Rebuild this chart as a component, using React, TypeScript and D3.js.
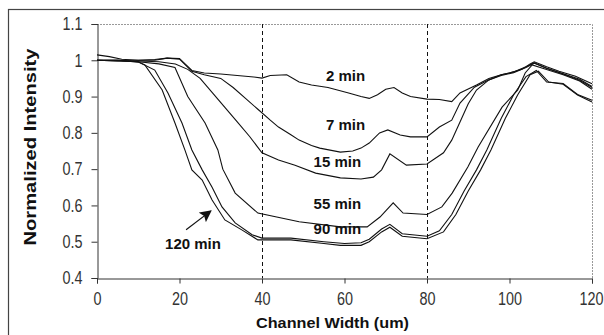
import React, { useRef, useEffect } from "react";
import * as d3 from "d3";

// values, [channel width (um), normalized intensity]
const min2: [number, number][] = [
  [0, 1.015], [3, 1.01], [6, 1.003], [10, 1.0], [14, 1.0], [17, 1.006], [20, 1.005], [23, 0.972],
  [26, 0.965], [30, 0.962], [34, 0.958], [38, 0.954], [40, 0.951], [42, 0.958], [46, 0.96],
  [49, 0.94], [52, 0.932], [56, 0.925], [61, 0.91], [64, 0.9], [66, 0.895], [68, 0.905],
  [70, 0.92], [72, 0.925], [74, 0.91], [76, 0.9], [80, 0.893], [83, 0.892], [86, 0.886],
  [88, 0.91], [92, 0.932], [95, 0.95], [98, 0.96], [100, 0.965], [103, 0.975], [105, 0.99],
  [106, 0.996], [109, 0.982], [112, 0.97], [116, 0.956], [120, 0.935],
];
const min7: [number, number][] = [
  [0, 1.0], [5, 1.0], [10, 1.0], [14, 1.002], [17, 1.006], [20, 1.003], [23, 0.97], [26, 0.96],
  [30, 0.95], [33, 0.925], [36, 0.895], [39, 0.865], [42, 0.835], [44, 0.816], [47, 0.795],
  [49, 0.78], [52, 0.765], [54, 0.758], [59, 0.747], [62, 0.75], [64, 0.758], [66, 0.772],
  [68.5, 0.8], [70.5, 0.808], [73.5, 0.794], [76, 0.789], [80, 0.789], [83, 0.816], [86, 0.835],
  [88, 0.882], [91.5, 0.926], [95, 0.946], [98, 0.958], [101, 0.966], [104, 0.98], [106, 0.992],
  [109, 0.978], [113, 0.963], [117, 0.948], [120, 0.928],
];
const min15: [number, number][] = [
  [0, 1.0], [5, 0.998], [10, 0.998], [15, 0.996], [19, 0.99], [22, 0.975], [25, 0.95], [28, 0.91],
  [31, 0.87], [34, 0.83], [37, 0.79], [40, 0.745], [44, 0.725], [48, 0.711], [53, 0.689],
  [59, 0.676], [64, 0.673], [67, 0.678], [69, 0.698], [71, 0.742], [75, 0.711], [80, 0.714],
  [84, 0.745], [86, 0.78], [88, 0.83], [90, 0.88], [92, 0.918], [95, 0.946], [98, 0.96],
  [101, 0.968], [104, 0.982], [106, 0.993], [109, 0.978], [113, 0.962], [117, 0.945], [120, 0.925],
];
const min55: [number, number][] = [
  [0, 1.0], [5, 0.998], [10, 0.996], [15, 0.99], [18.9, 0.98], [22, 0.9], [26.2, 0.827],
  [29.3, 0.753], [30.5, 0.7], [33.5, 0.634], [39, 0.579], [49, 0.555], [59, 0.541], [65.5, 0.541],
  [68.6, 0.568], [71.8, 0.607], [74.2, 0.579], [80, 0.575], [83.6, 0.596], [86.1, 0.634],
  [89.9, 0.706], [92.4, 0.761], [98.2, 0.871], [102, 0.918], [103.8, 0.965], [105.5, 0.987],
  [108.6, 0.976], [113, 0.96], [117, 0.943], [120, 0.92],
];
const min90: [number, number][] = [
  [0, 1.0], [5, 1.0], [10, 0.996], [14, 0.973], [17.2, 0.91], [20.6, 0.827], [23, 0.753],
  [25.5, 0.698], [27.9, 0.65], [30.3, 0.596], [33.5, 0.552], [37.6, 0.519], [40, 0.51],
  [47, 0.51], [55, 0.5], [60, 0.495], [64, 0.497], [66, 0.507], [69, 0.535], [71, 0.548],
  [74, 0.522], [80, 0.515], [83, 0.53], [86, 0.575], [89, 0.64], [92, 0.698], [94.5, 0.753],
  [98, 0.84], [101, 0.905], [104, 0.955], [106.5, 0.972], [109, 0.94], [113, 0.936],
  [116.5, 0.906], [120, 0.89],
];
const min120: [number, number][] = [
  [0, 1.0], [5, 1.0], [10, 0.995], [11.6, 0.987], [15.8, 0.918], [18.9, 0.827], [21.3, 0.753],
  [23, 0.698], [25.5, 0.67], [27.9, 0.615], [31, 0.56], [35.2, 0.532], [39, 0.505], [47, 0.505],
  [55, 0.495], [59, 0.49], [64, 0.49], [66, 0.5], [69, 0.527], [71, 0.54], [74, 0.515],
  [80, 0.508], [84, 0.527], [87, 0.575], [90, 0.64], [93, 0.698], [95.5, 0.753], [99, 0.84],
  [102, 0.905], [105, 0.96], [107, 0.97], [109.5, 0.94], [113, 0.934], [116.5, 0.904], [120, 0.885],
];
const seriesList = [min2, min7, min15, min55, min90, min120];

// curve labels: text, x (um), y (intensity) of the text's left/baseline
const labelNames = ["2 min", "7 min", "15 min", "55 min", "90 min", "120 min"];
const labelX = [55.5, 55.5, 52.5, 52.5, 52.5, 16.5];
const labelY = [0.942, 0.807, 0.705, 0.59, 0.521, 0.48];

const xTicks = [0, 20, 40, 60, 80, 100, 120];
const yTicks = [0.4, 0.5, 0.6, 0.7, 0.8, 0.9, 1, 1.1];
const guideLines = [40, 80];

const W = 604;
const H = 335;
const m = { left: 97, right: 592, top: 24, bottom: 278 };

const App = () => {
  const svgRef = useRef<SVGSVGElement>(null);

  useEffect(() => {
    const svg = d3.select(svgRef.current);
    svg.selectAll("*").remove();

    const x = d3.scaleLinear().domain([0, 120]).range([m.left, m.right]);
    const y = d3.scaleLinear().domain([0.4, 1.1]).range([m.bottom, m.top]);
    const font = "'Liberation Sans', Arial, sans-serif";

    // outer frame (runs past the picture on the right and bottom)
    svg.append("rect")
      .attr("x", 8.5).attr("y", 9.5)
      .attr("width", 640).attr("height", 360)
      .attr("fill", "none").attr("stroke", "#444").attr("stroke-width", 1.2);

    // plot area top/right border, dotted grey
    svg.append("path")
      .attr("d", `M${m.left},${m.top + 0.5}H${m.right + 0.5}V${m.bottom}`)
      .attr("fill", "none").attr("stroke", "#999").attr("stroke-dasharray", "2,1");

    // dashed guides at 40 and 80 um
    svg.selectAll(".guide")
      .data(guideLines)
      .enter()
      .append("line")
      .attr("class", "guide")
      .attr("x1", (d) => Math.round(x(d)) + 0.5).attr("x2", (d) => Math.round(x(d)) + 0.5)
      .attr("y1", m.top).attr("y2", m.bottom)
      .attr("stroke", "#111").attr("stroke-dasharray", "4,3");

    // axes
    const yAxis = svg.append("g")
      .attr("transform", `translate(${m.left + 0.5},0)`)
      .call(d3.axisLeft(y).tickValues(yTicks).tickSize(6).tickPadding(9)
        .tickFormat((d) => String(+(+d).toFixed(1))));
    const xAxis = svg.append("g")
      .attr("transform", `translate(0,${m.bottom + 0.5})`)
      .call(d3.axisBottom(x).tickValues(xTicks).tickSize(5).tickPadding(9)
        .tickFormat((d) => String(d)));
    [yAxis, xAxis].forEach((g) => {
      g.select(".domain").attr("stroke", "#333");
      g.selectAll(".tick line").attr("stroke", "#333");
      g.selectAll(".tick text")
        .attr("fill", "#333")
        .style("font-family", font)
        .style("font-size", "18px");
    });
    // the reference digits are tall and narrow: squeeze them
    svg.selectAll<SVGTextElement, unknown>(".tick text").each(function () {
      const w = this.getComputedTextLength();
      d3.select(this)
        .attr("textLength", w * 0.8)
        .attr("lengthAdjust", "spacingAndGlyphs");
    });
    // keep the last x label inside the picture
    xAxis.selectAll(".tick:last-of-type text").attr("text-anchor", "end").attr("x", 11);

    // curves
    const line = d3.line<[number, number]>()
      .x((d) => x(d[0]))
      .y((d) => y(d[1]));
    svg.selectAll(".curve")
      .data(seriesList)
      .enter()
      .append("path")
      .attr("class", "curve")
      .attr("d", (d) => line(d))
      .attr("fill", "none")
      .attr("stroke", "#111")
      .attr("stroke-width", 1.1);

    // curve labels
    svg.selectAll(".lbl")
      .data(labelNames)
      .enter()
      .append("text")
      .attr("class", "lbl")
      .attr("x", (d, i) => x(labelX[i]))
      .attr("y", (d, i) => y(labelY[i]))
      .style("font-family", font)
      .style("font-size", "15px")
      .style("font-weight", "bold")
      .attr("fill", "#111")
      .text((d) => d);

    // arrow pointing at the 120 min curve
    const defs = svg.append("defs");
    defs.append("marker")
      .attr("id", "head")
      .attr("viewBox", "0 0 10 10")
      .attr("refX", 9).attr("refY", 5)
      .attr("markerUnits", "userSpaceOnUse")
      .attr("markerWidth", 12).attr("markerHeight", 12)
      .attr("orient", "auto")
      .append("path").attr("d", "M0,0L10,5L0,10L2,5z").attr("fill", "#111");
    svg.append("line")
      .attr("x1", x(21.6)).attr("y1", y(0.533))
      .attr("x2", x(27.6)).attr("y2", y(0.585))
      .attr("stroke", "#111").attr("stroke-width", 1.2)
      .attr("marker-end", "url(#head)");

    // axis titles
    svg.append("text")
      .attr("x", (m.left + m.right) / 2 - 12).attr("y", 328)
      .attr("text-anchor", "middle")
      .attr("textLength", 153).attr("lengthAdjust", "spacingAndGlyphs")
      .style("font-family", font).style("font-size", "15px").style("font-weight", "bold")
      .attr("fill", "#111")
      .text("Channel Width (um)");
    svg.append("text")
      .attr("transform", `translate(36,${147}) rotate(-90)`)
      .attr("text-anchor", "middle")
      .attr("textLength", 197).attr("lengthAdjust", "spacingAndGlyphs")
      .style("font-family", font).style("font-size", "17px").style("font-weight", "bold")
      .attr("fill", "#111")
      .text("Normalized Intensity");
  }, []);

  return (
    <svg
      ref={svgRef}
      width={W}
      height={H}
      style={{ position: "absolute", left: 0, top: 0, background: "#fff" }}
    />
  );
};

export default App;
